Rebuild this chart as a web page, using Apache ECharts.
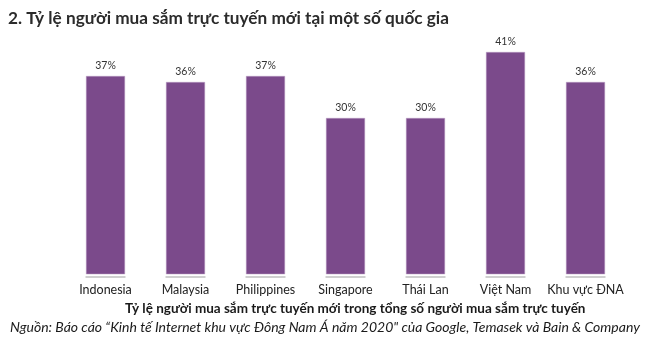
<!DOCTYPE html>
<html><head><meta charset="utf-8">
<script src="https://cdn.jsdelivr.net/npm/echarts@6/dist/echarts.min.js"></script>
<style>html,body{margin:0;padding:0;background:#fff}#c{width:650px;height:349px}</style>
</head><body><div id="c"></div>
<script>
var categories = ["Indonesia","Malaysia","Philippines","Singapore","Thái Lan","Việt Nam","Khu vực ĐNA"];
var values = [37,36,37,30,30,41,36];
var titleText = "2. Tỷ lệ người mua sắm trực tuyến mới tại một số quốc gia";
var subText = "Tỷ lệ người mua sắm trực tuyến mới trong tổng số người mua sắm trực tuyến";
var sourceText = "Nguồn: Báo cáo \u201cKinh tế Internet khu vực Đông Nam Á năm 2020\" của Google, Temasek và Bain & Company";
var yMin = 4, yMax = 45;

var chart = echarts.init(document.getElementById('c'));
chart.setOption({
  animation:false,
  graphic:[
    {type:'text',left:8,top:10,style:{text:titleText,font:'bold 17.2px Lato',fill:'#2b2b2b'}},
    {type:'text',left:125,top:302,style:{text:subText,font:'bold 13.5px Lato',fill:'#1a1a1a'}},
    {type:'text',left:10,top:320,style:{text:sourceText,font:'italic 14px Lato',fill:'#1a1a1a'}}
  ],
  grid:{left:65.5,right:24.5,top:28,bottom:75},
  xAxis:{type:'category',data:categories,axisLine:{show:false},axisTick:{show:false},
    axisLabel:{color:'#222',fontSize:12.5,fontFamily:'Lato',margin:9,interval:0}},
  yAxis:{type:'value',min:yMin,max:yMax,show:false,splitLine:{show:false}},
  series:[
    {type:'bar',data:values,barWidth:39,itemStyle:{color:'#7b4a8b',borderColor:'#b89cc3',borderWidth:0.5},
      label:{show:true,position:'top',formatter:'{c}%',color:'#333',fontSize:10.5,fontFamily:'Lato',distance:5}},
    {type:'custom',data:values.map(function(v,i){return [i,yMin];}),
      renderItem:function(params,api){
        var p=api.coord([api.value(0),api.value(1)]);
        return {type:'rect',shape:{x:p[0]-20,y:p[1]+2,width:40,height:2},style:{fill:'#cfcfcf'}};
      }, silent:true}
  ]
});
</script></body></html>
